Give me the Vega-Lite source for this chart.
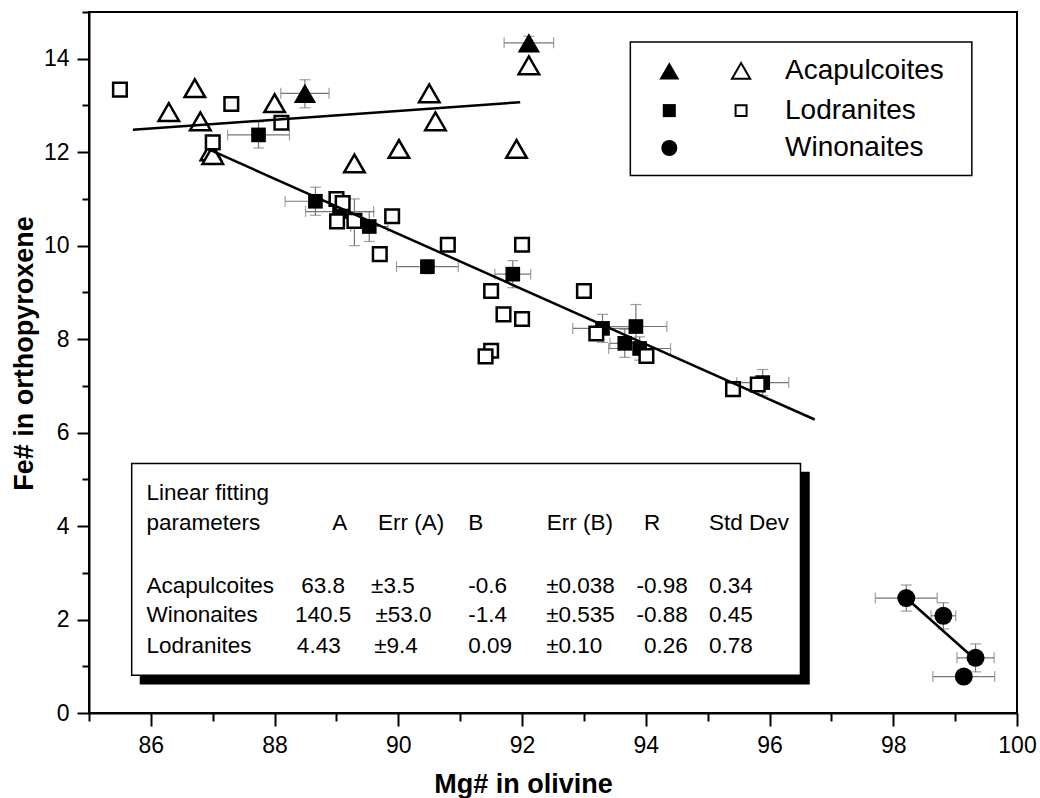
{
  "$schema": "https://vega.github.io/schema/vega-lite/v6.json",
  "width": 928,
  "height": 701,
  "autosize": {"type": "none"},
  "padding": {"left": 89, "top": 12, "right": 23, "bottom": 85},
  "background": "white",
  "config": {
    "view": {"stroke": "black", "strokeWidth": 2},
    "font": "Liberation Sans"
  },
  "datasets": {
    "meteorites": [
      {"group": "Lodranites", "kind": "open", "mg": 85.50, "fe": 13.34},
      {"group": "Lodranites", "kind": "open", "mg": 87.00, "fe": 12.21},
      {"group": "Lodranites", "kind": "open", "mg": 87.30, "fe": 13.03},
      {"group": "Lodranites", "kind": "open", "mg": 88.11, "fe": 12.63},
      {"group": "Lodranites", "kind": "open", "mg": 89.00, "fe": 11.00},
      {"group": "Lodranites", "kind": "open", "mg": 89.10, "fe": 10.91},
      {"group": "Lodranites", "kind": "open", "mg": 89.01, "fe": 10.52},
      {"group": "Lodranites", "kind": "open", "mg": 89.29, "fe": 10.53, "feLo": 10.0, "feHi": 11.0},
      {"group": "Lodranites", "kind": "open", "mg": 89.90, "fe": 10.63},
      {"group": "Lodranites", "kind": "open", "mg": 89.70, "fe": 9.82},
      {"group": "Lodranites", "kind": "open", "mg": 90.80, "fe": 10.02},
      {"group": "Lodranites", "kind": "open", "mg": 92.00, "fe": 10.02},
      {"group": "Lodranites", "kind": "open", "mg": 91.50, "fe": 9.03},
      {"group": "Lodranites", "kind": "open", "mg": 91.70, "fe": 8.53},
      {"group": "Lodranites", "kind": "open", "mg": 92.00, "fe": 8.43},
      {"group": "Lodranites", "kind": "open", "mg": 91.50, "fe": 7.75},
      {"group": "Lodranites", "kind": "open", "mg": 91.41, "fe": 7.63},
      {"group": "Lodranites", "kind": "open", "mg": 93.00, "fe": 9.03},
      {"group": "Lodranites", "kind": "open", "mg": 93.20, "fe": 8.12},
      {"group": "Lodranites", "kind": "open", "mg": 94.01, "fe": 7.64},
      {"group": "Lodranites", "kind": "open", "mg": 95.41, "fe": 6.93},
      {"group": "Lodranites", "kind": "open", "mg": 95.81, "fe": 7.03},
      {"group": "Lodranites", "kind": "filled", "mg": 87.74, "fe": 12.37, "mgLo": 87.24, "mgHi": 88.24, "feLo": 12.09, "feHi": 12.65},
      {"group": "Lodranites", "kind": "filled", "mg": 88.66, "fe": 10.95, "mgLo": 88.17, "mgHi": 89.15, "feLo": 10.65, "feHi": 11.25},
      {"group": "Lodranites", "kind": "filled", "mg": 89.05, "fe": 10.73, "mgLo": 88.50, "mgHi": 89.60, "feLo": 10.48, "feHi": 10.98},
      {"group": "Lodranites", "kind": "filled", "mg": 89.53, "fe": 10.41, "mgLo": 89.23, "mgHi": 89.83, "feLo": 10.09, "feHi": 10.73},
      {"group": "Lodranites", "kind": "filled", "mg": 90.47, "fe": 9.55, "mgLo": 89.97, "mgHi": 90.97, "feLo": 9.40, "feHi": 9.70},
      {"group": "Lodranites", "kind": "filled", "mg": 91.85, "fe": 9.39, "mgLo": 91.56, "mgHi": 92.14, "feLo": 9.10, "feHi": 9.68},
      {"group": "Lodranites", "kind": "filled", "mg": 93.30, "fe": 8.23, "mgLo": 92.82, "mgHi": 93.78, "feLo": 7.93, "feHi": 8.53},
      {"group": "Lodranites", "kind": "filled", "mg": 93.84, "fe": 8.27, "mgLo": 93.34, "mgHi": 94.34, "feLo": 7.80, "feHi": 8.74},
      {"group": "Lodranites", "kind": "filled", "mg": 93.66, "fe": 7.91, "mgLo": 93.42, "mgHi": 93.90, "feLo": 7.61, "feHi": 8.21},
      {"group": "Lodranites", "kind": "filled", "mg": 93.90, "fe": 7.80, "mgLo": 93.40, "mgHi": 94.40, "feLo": 7.55, "feHi": 8.05},
      {"group": "Lodranites", "kind": "filled", "mg": 95.89, "fe": 7.07, "mgLo": 95.47, "mgHi": 96.31, "feLo": 6.79, "feHi": 7.35},
      {"group": "Acapulcoites", "kind": "open", "mg": 86.29, "fe": 12.86},
      {"group": "Acapulcoites", "kind": "open", "mg": 86.71, "fe": 13.37},
      {"group": "Acapulcoites", "kind": "open", "mg": 86.80, "fe": 12.66},
      {"group": "Acapulcoites", "kind": "open", "mg": 86.97, "fe": 12.02},
      {"group": "Acapulcoites", "kind": "open", "mg": 87.00, "fe": 11.94},
      {"group": "Acapulcoites", "kind": "open", "mg": 88.00, "fe": 13.05},
      {"group": "Acapulcoites", "kind": "open", "mg": 89.29, "fe": 11.76},
      {"group": "Acapulcoites", "kind": "open", "mg": 90.01, "fe": 12.07},
      {"group": "Acapulcoites", "kind": "open", "mg": 90.50, "fe": 13.26},
      {"group": "Acapulcoites", "kind": "open", "mg": 90.60, "fe": 12.66},
      {"group": "Acapulcoites", "kind": "open", "mg": 91.91, "fe": 12.07},
      {"group": "Acapulcoites", "kind": "open", "mg": 92.11, "fe": 13.86},
      {"group": "Acapulcoites", "kind": "filled", "mg": 88.49, "fe": 13.26, "mgLo": 88.10, "mgHi": 88.88, "feLo": 12.95, "feHi": 13.55},
      {"group": "Acapulcoites", "kind": "filled", "mg": 92.11, "fe": 14.34, "mgLo": 91.71, "mgHi": 92.51, "feLo": 14.20, "feHi": 14.48},
      {"group": "Winonaites", "kind": "filled", "mg": 98.21, "fe": 2.46, "mgLo": 97.71, "mgHi": 98.71, "feLo": 2.18, "feHi": 2.74},
      {"group": "Winonaites", "kind": "filled", "mg": 98.81, "fe": 2.08, "mgLo": 98.61, "mgHi": 99.01, "feLo": 1.80, "feHi": 2.36},
      {"group": "Winonaites", "kind": "filled", "mg": 99.33, "fe": 1.18, "mgLo": 99.03, "mgHi": 99.63, "feLo": 0.88, "feHi": 1.48},
      {"group": "Winonaites", "kind": "filled", "mg": 99.14, "fe": 0.78, "mgLo": 98.64, "mgHi": 99.64, "feLo": 0.70, "feHi": 0.86}
    ],
    "fits": [
      {"line": "upper", "mg": 85.71, "fe": 12.48},
      {"line": "upper", "mg": 91.97, "fe": 13.07},
      {"line": "lower", "mg": 86.92, "fe": 12.07},
      {"line": "lower", "mg": 96.73, "fe": 6.28},
      {"line": "Winonaites", "mg": 98.21, "fe": 2.46},
      {"line": "Winonaites", "mg": 99.33, "fe": 1.14}
    ],
    "boxes": [
      {"box": "tableShadow", "mg1": 85.82, "mg2": 96.65, "fe1": 0.61, "fe2": 5.16},
      {"box": "table", "mg1": 85.69, "mg2": 96.50, "fe1": 0.81, "fe2": 5.34},
      {"box": "legend", "mg1": 93.75, "mg2": 99.27, "fe1": 11.50, "fe2": 14.36}
    ],
    "legendRows": [
      {"label": "Acapulcoites", "fe": 13.74, "mgFilled": 94.38, "mgOpen": 95.54, "mgText": 96.25},
      {"label": "Lodranites", "fe": 12.89, "mgFilled": 94.38, "mgOpen": 95.54, "mgText": 96.25},
      {"label": "Winonaites", "fe": 12.09, "mgFilled": 94.38, "mgText": 96.25}
    ],
    "table": [
      {"text": "Linear fitting", "mg": 85.93, "fe": 4.71},
      {"text": "parameters", "mg": 85.93, "fe": 4.06},
      {"text": "A", "mg": 88.93, "fe": 4.06},
      {"text": "Err (A)", "mg": 89.67, "fe": 4.06},
      {"text": "B", "mg": 91.13, "fe": 4.06},
      {"text": "Err (B)", "mg": 92.40, "fe": 4.06},
      {"text": "R", "mg": 93.97, "fe": 4.06},
      {"text": "Std Dev", "mg": 95.02, "fe": 4.06},
      {"text": "Acapulcoites", "mg": 85.93, "fe": 2.71},
      {"text": "63.8", "mg": 88.43, "fe": 2.71},
      {"text": "±3.5", "mg": 89.56, "fe": 2.71},
      {"text": "-0.6", "mg": 91.13, "fe": 2.71},
      {"text": "±0.038", "mg": 92.39, "fe": 2.71},
      {"text": "-0.98", "mg": 93.85, "fe": 2.71},
      {"text": "0.34", "mg": 95.02, "fe": 2.71},
      {"text": "Winonaites", "mg": 85.93, "fe": 2.09},
      {"text": "140.5", "mg": 88.33, "fe": 2.09},
      {"text": "±53.0", "mg": 89.63, "fe": 2.09},
      {"text": "-1.4", "mg": 91.13, "fe": 2.09},
      {"text": "±0.535", "mg": 92.39, "fe": 2.09},
      {"text": "-0.88", "mg": 93.85, "fe": 2.09},
      {"text": "0.45", "mg": 95.02, "fe": 2.09},
      {"text": "Lodranites", "mg": 85.93, "fe": 1.44},
      {"text": "4.43", "mg": 88.36, "fe": 1.44},
      {"text": "±9.4", "mg": 89.61, "fe": 1.44},
      {"text": "0.09", "mg": 91.13, "fe": 1.44},
      {"text": "±0.10", "mg": 92.39, "fe": 1.44},
      {"text": "0.26", "mg": 93.97, "fe": 1.44},
      {"text": "0.78", "mg": 95.02, "fe": 1.44}
    ]
  },
  "encoding": {
    "x": {
      "field": "mg",
      "type": "quantitative",
      "scale": {"domain": [85, 100], "nice": false, "zero": false},
      "axis": {
        "title": "Mg# in olivine",
        "values": [85, 86, 87, 88, 89, 90, 91, 92, 93, 94, 95, 96, 97, 98, 99, 100],
        "labelExpr": "datum.value % 2 === 0 ? datum.label : ''",
        "tickSize": {"condition": {"test": "datum.value % 2 === 0", "value": 13}, "value": 8},
        "tickWidth": 2,
        "tickColor": "black",
        "domainColor": "black",
        "domainWidth": 2,
        "grid": false,
        "labelFont": "Liberation Sans Narrow, Liberation Sans",
        "labelFontSize": 23,
        "labelColor": "black",
        "labelPadding": 8,
        "labelFlush": false,
        "labelOverlap": false,
        "labelBound": false,
        "titleFont": "Liberation Sans",
        "titleFontSize": 27,
        "titleFontWeight": "bold",
        "titleColor": "black",
        "titleX": 434,
        "titleY": 79,
        "titleBaseline": "alphabetic"
      }
    },
    "y": {
      "field": "fe",
      "type": "quantitative",
      "scale": {"domain": [0, 15], "nice": false, "zero": false},
      "axis": {
        "title": "Fe# in orthopyroxene",
        "values": [0, 1, 2, 3, 4, 5, 6, 7, 8, 9, 10, 11, 12, 13, 14, 15],
        "labelExpr": "datum.value % 2 === 0 ? datum.label : ''",
        "tickSize": {"condition": {"test": "datum.value % 2 === 0", "value": 12}, "value": 7},
        "tickWidth": 2,
        "tickColor": "black",
        "domainColor": "black",
        "domainWidth": 2,
        "grid": false,
        "labelFont": "Liberation Sans Narrow, Liberation Sans",
        "labelFontSize": 23,
        "labelColor": "black",
        "labelPadding": 8,
        "labelFlush": false,
        "labelOverlap": false,
        "labelBound": false,
        "titleFont": "Liberation Sans",
        "titleFontSize": 27,
        "titleFontWeight": "bold",
        "titleColor": "black",
        "titleAngle": -90,
        "titleX": -57,
        "titleY": 341,
        "titleBaseline": "alphabetic"
      }
    }
  },
  "layer": [
    {
      "data": {"name": "boxes"},
      "transform": [{"filter": "datum.box === 'tableShadow'"}],
      "mark": {"type": "rect", "fill": "black"},
      "encoding": {
        "x": {"field": "mg1", "type": "quantitative"},
        "x2": {"field": "mg2"},
        "y": {"field": "fe1", "type": "quantitative"},
        "y2": {"field": "fe2"}
      }
    },
    {
      "data": {"name": "boxes"},
      "transform": [{"filter": "datum.box !== 'tableShadow'"}],
      "mark": {"type": "rect", "fill": "white", "stroke": "black", "strokeWidth": 1.5},
      "encoding": {
        "x": {"field": "mg1", "type": "quantitative"},
        "x2": {"field": "mg2"},
        "y": {"field": "fe1", "type": "quantitative"},
        "y2": {"field": "fe2"}
      }
    },
    {
      "data": {"name": "meteorites"},
      "transform": [{"filter": "isValid(datum.mgLo)"}],
      "mark": {"type": "rule", "color": "#777777", "strokeWidth": 1.2},
      "encoding": {
        "x": {"field": "mgLo", "type": "quantitative"},
        "x2": {"field": "mgHi"},
        "y": {"field": "fe", "type": "quantitative"}
      }
    },
    {
      "data": {"name": "meteorites"},
      "transform": [{"filter": "isValid(datum.feLo)"}],
      "mark": {"type": "rule", "color": "#777777", "strokeWidth": 1.2},
      "encoding": {
        "x": {"field": "mg", "type": "quantitative"},
        "y": {"field": "feLo", "type": "quantitative"},
        "y2": {"field": "feHi"}
      }
    },
    {
      "data": {"name": "meteorites"},
      "transform": [{"filter": "isValid(datum.mgLo)"}],
      "mark": {"type": "tick", "orient": "vertical", "color": "#777777", "thickness": 1.2, "size": 11},
      "encoding": {
        "x": {"field": "mgLo", "type": "quantitative"},
        "y": {"field": "fe", "type": "quantitative"}
      }
    },
    {
      "data": {"name": "meteorites"},
      "transform": [{"filter": "isValid(datum.mgHi)"}],
      "mark": {"type": "tick", "orient": "vertical", "color": "#777777", "thickness": 1.2, "size": 11},
      "encoding": {
        "x": {"field": "mgHi", "type": "quantitative"},
        "y": {"field": "fe", "type": "quantitative"}
      }
    },
    {
      "data": {"name": "meteorites"},
      "transform": [{"filter": "isValid(datum.feLo)"}],
      "mark": {"type": "tick", "orient": "horizontal", "color": "#777777", "thickness": 1.2, "size": 11},
      "encoding": {
        "x": {"field": "mg", "type": "quantitative"},
        "y": {"field": "feLo", "type": "quantitative"}
      }
    },
    {
      "data": {"name": "meteorites"},
      "transform": [{"filter": "isValid(datum.feHi)"}],
      "mark": {"type": "tick", "orient": "horizontal", "color": "#777777", "thickness": 1.2, "size": 11},
      "encoding": {
        "x": {"field": "mg", "type": "quantitative"},
        "y": {"field": "feHi", "type": "quantitative"}
      }
    },
    {
      "data": {"name": "meteorites"},
      "transform": [{"filter": "datum.kind === 'filled' && datum.group === 'Lodranites'"}],
      "mark": {"type": "point", "shape": "square", "filled": true, "color": "black", "opacity": 1, "size": 215}
    },
    {
      "data": {"name": "meteorites"},
      "transform": [{"filter": "datum.kind === 'filled' && datum.group === 'Acapulcoites'"}],
      "mark": {"type": "point", "shape": "triangle-up", "filled": true, "color": "black", "opacity": 1, "size": 500}
    },
    {
      "data": {"name": "meteorites"},
      "transform": [{"filter": "datum.kind === 'filled' && datum.group === 'Winonaites'"}],
      "mark": {"type": "point", "shape": "circle", "filled": true, "color": "black", "opacity": 1, "size": 324}
    },
    {
      "data": {"name": "meteorites"},
      "transform": [{"filter": "datum.kind === 'open' && datum.group === 'Acapulcoites'"}],
      "mark": {"type": "point", "shape": "triangle-up", "filled": false, "fill": "white", "fillOpacity": 1, "stroke": "black", "strokeWidth": 2.5, "opacity": 1, "size": 420}
    },
    {
      "data": {"name": "meteorites"},
      "transform": [{"filter": "datum.kind === 'open' && datum.group === 'Lodranites'"}],
      "mark": {"type": "point", "shape": "square", "filled": false, "fill": "white", "fillOpacity": 1, "stroke": "black", "strokeWidth": 2.5, "opacity": 1, "size": 185}
    },
    {
      "data": {"name": "fits"},
      "mark": {"type": "line", "color": "black", "strokeWidth": 2.5},
      "encoding": {
        "detail": {"field": "line", "type": "nominal"}
      }
    },
    {
      "data": {"name": "legendRows"},
      "transform": [{"filter": "datum.label === 'Acapulcoites'"}],
      "mark": {"type": "point", "shape": "triangle-up", "filled": true, "color": "black", "opacity": 1, "size": 400},
      "encoding": {"x": {"field": "mgFilled", "type": "quantitative"}}
    },
    {
      "data": {"name": "legendRows"},
      "transform": [{"filter": "datum.label === 'Acapulcoites'"}],
      "mark": {"type": "point", "shape": "triangle-up", "filled": false, "fill": "white", "fillOpacity": 1, "stroke": "black", "strokeWidth": 2, "opacity": 1, "size": 330},
      "encoding": {"x": {"field": "mgOpen", "type": "quantitative"}}
    },
    {
      "data": {"name": "legendRows"},
      "transform": [{"filter": "datum.label === 'Lodranites'"}],
      "mark": {"type": "point", "shape": "square", "filled": true, "color": "black", "opacity": 1, "size": 170},
      "encoding": {"x": {"field": "mgFilled", "type": "quantitative"}}
    },
    {
      "data": {"name": "legendRows"},
      "transform": [{"filter": "datum.label === 'Lodranites'"}],
      "mark": {"type": "point", "shape": "square", "filled": false, "fill": "white", "fillOpacity": 1, "stroke": "black", "strokeWidth": 2, "opacity": 1, "size": 120},
      "encoding": {"x": {"field": "mgOpen", "type": "quantitative"}}
    },
    {
      "data": {"name": "legendRows"},
      "transform": [{"filter": "datum.label === 'Winonaites'"}],
      "mark": {"type": "point", "shape": "circle", "filled": true, "color": "black", "opacity": 1, "size": 256},
      "encoding": {"x": {"field": "mgFilled", "type": "quantitative"}}
    },
    {
      "data": {"name": "legendRows"},
      "mark": {"type": "text", "align": "left", "baseline": "middle", "font": "Liberation Sans", "fontSize": 28, "color": "black"},
      "encoding": {
        "x": {"field": "mgText", "type": "quantitative"},
        "text": {"field": "label"}
      }
    },
    {
      "data": {"name": "table"},
      "mark": {"type": "text", "align": "left", "baseline": "middle", "font": "Liberation Sans", "fontSize": 22.5, "color": "black"},
      "encoding": {
        "text": {"field": "text"}
      }
    }
  ]
}
